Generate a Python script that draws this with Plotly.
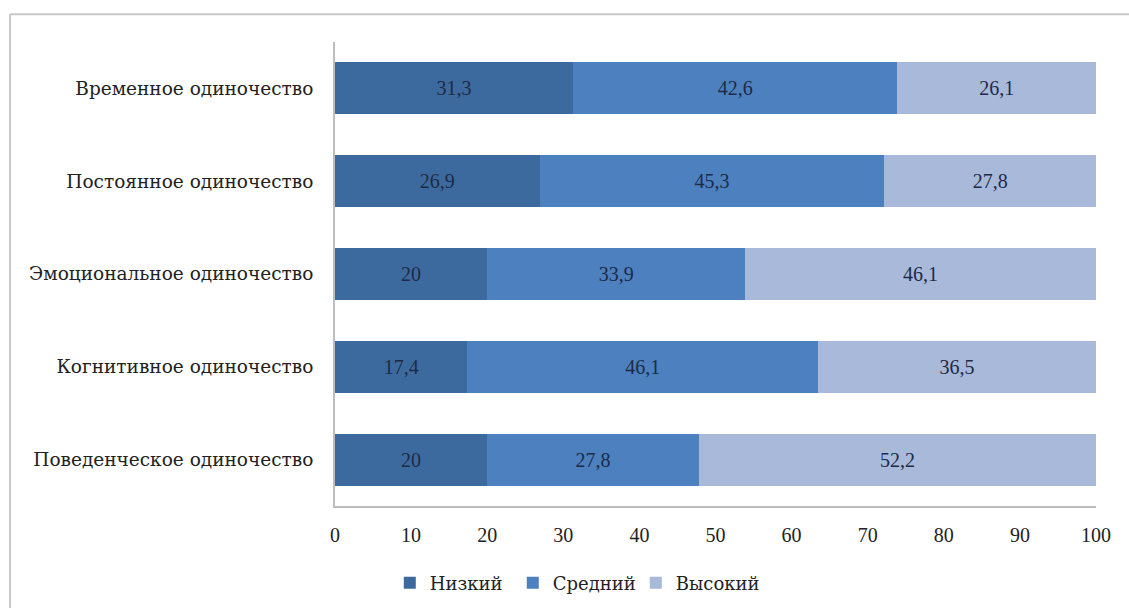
import plotly.graph_objects as go

categories = ["Временное одиночество", "Постоянное одиночество", "Эмоциональное одиночество",
              "Когнитивное одиночество", "Поведенческое одиночество"]
low = [31.3, 26.9, 20, 17.4, 20]
mid = [42.6, 45.3, 33.9, 46.1, 27.8]
high = [26.1, 27.8, 46.1, 36.5, 52.2]
series_names = ["Низкий", "Средний", "Высокий"]
colors = ["#3D6A9E", "#4C80BF", "#A8B9DA"]
tick_vals = [0, 10, 20, 30, 40, 50, 60, 70, 80, 90, 100]

SERIF = "Liberation Serif"
CYR = "DejaVu Serif"

def fmt(v):
    s = ("%g" % v)
    return s.replace(".", ",")

fig = go.Figure()
for name, vals, col in zip(series_names, [low, mid, high], colors):
    fig.add_trace(go.Bar(
        y=categories, x=vals, name=name, orientation="h",
        marker=dict(color=col, line=dict(width=0)),
        text=[fmt(v) for v in vals], textposition="inside",
        insidetextanchor="middle",
        textfont=dict(family=SERIF, size=20, color="#1E2B45"),
        constraintext="none",
    ))

fig.update_layout(
    barmode="stack", bargap=0.44,
    width=1129, height=613,
    margin=dict(l=335, r=33, t=42, b=104),
    paper_bgcolor="white", plot_bgcolor="white",
    font=dict(family=SERIF, size=20, color="#222222"),
    showlegend=True,
    legend=dict(orientation="h", x=0.072, xanchor="left", y=-0.166, yanchor="middle",
                font=dict(family=CYR, size=18, color="#222222"), itemwidth=30,
                entrywidth=78, entrywidthmode="pixels", tracegroupgap=0,
                traceorder="normal"),
    uniformtext=dict(minsize=10, mode="show"),
)
fig.update_xaxes(range=[0, 100], tickvals=tick_vals, showgrid=False, zeroline=False,
                 showline=True, linecolor="#BDBDBD", linewidth=2, ticks="",
                 ticklabelstandoff=10,
                 tickfont=dict(family=SERIF, size=20, color="#222222"))
fig.update_yaxes(autorange="reversed", showgrid=False, showline=True, linecolor="#BDBDBD",
                 linewidth=2, ticks="", ticklabelstandoff=16,
                 tickfont=dict(family=CYR, size=18.5, color="#222222"))

# frame lines of the image
fig.add_shape(type="line", xref="paper", yref="paper", x0=-0.427, x1=1.05, y0=1.06, y1=1.06,
              line=dict(color="#C8C8C8", width=2))
fig.add_shape(type="line", xref="paper", yref="paper", x0=-0.427, x1=-0.427, y0=1.06, y1=-0.22,
              line=dict(color="#C8C8C8", width=2))

fig.write_html("out.html")
